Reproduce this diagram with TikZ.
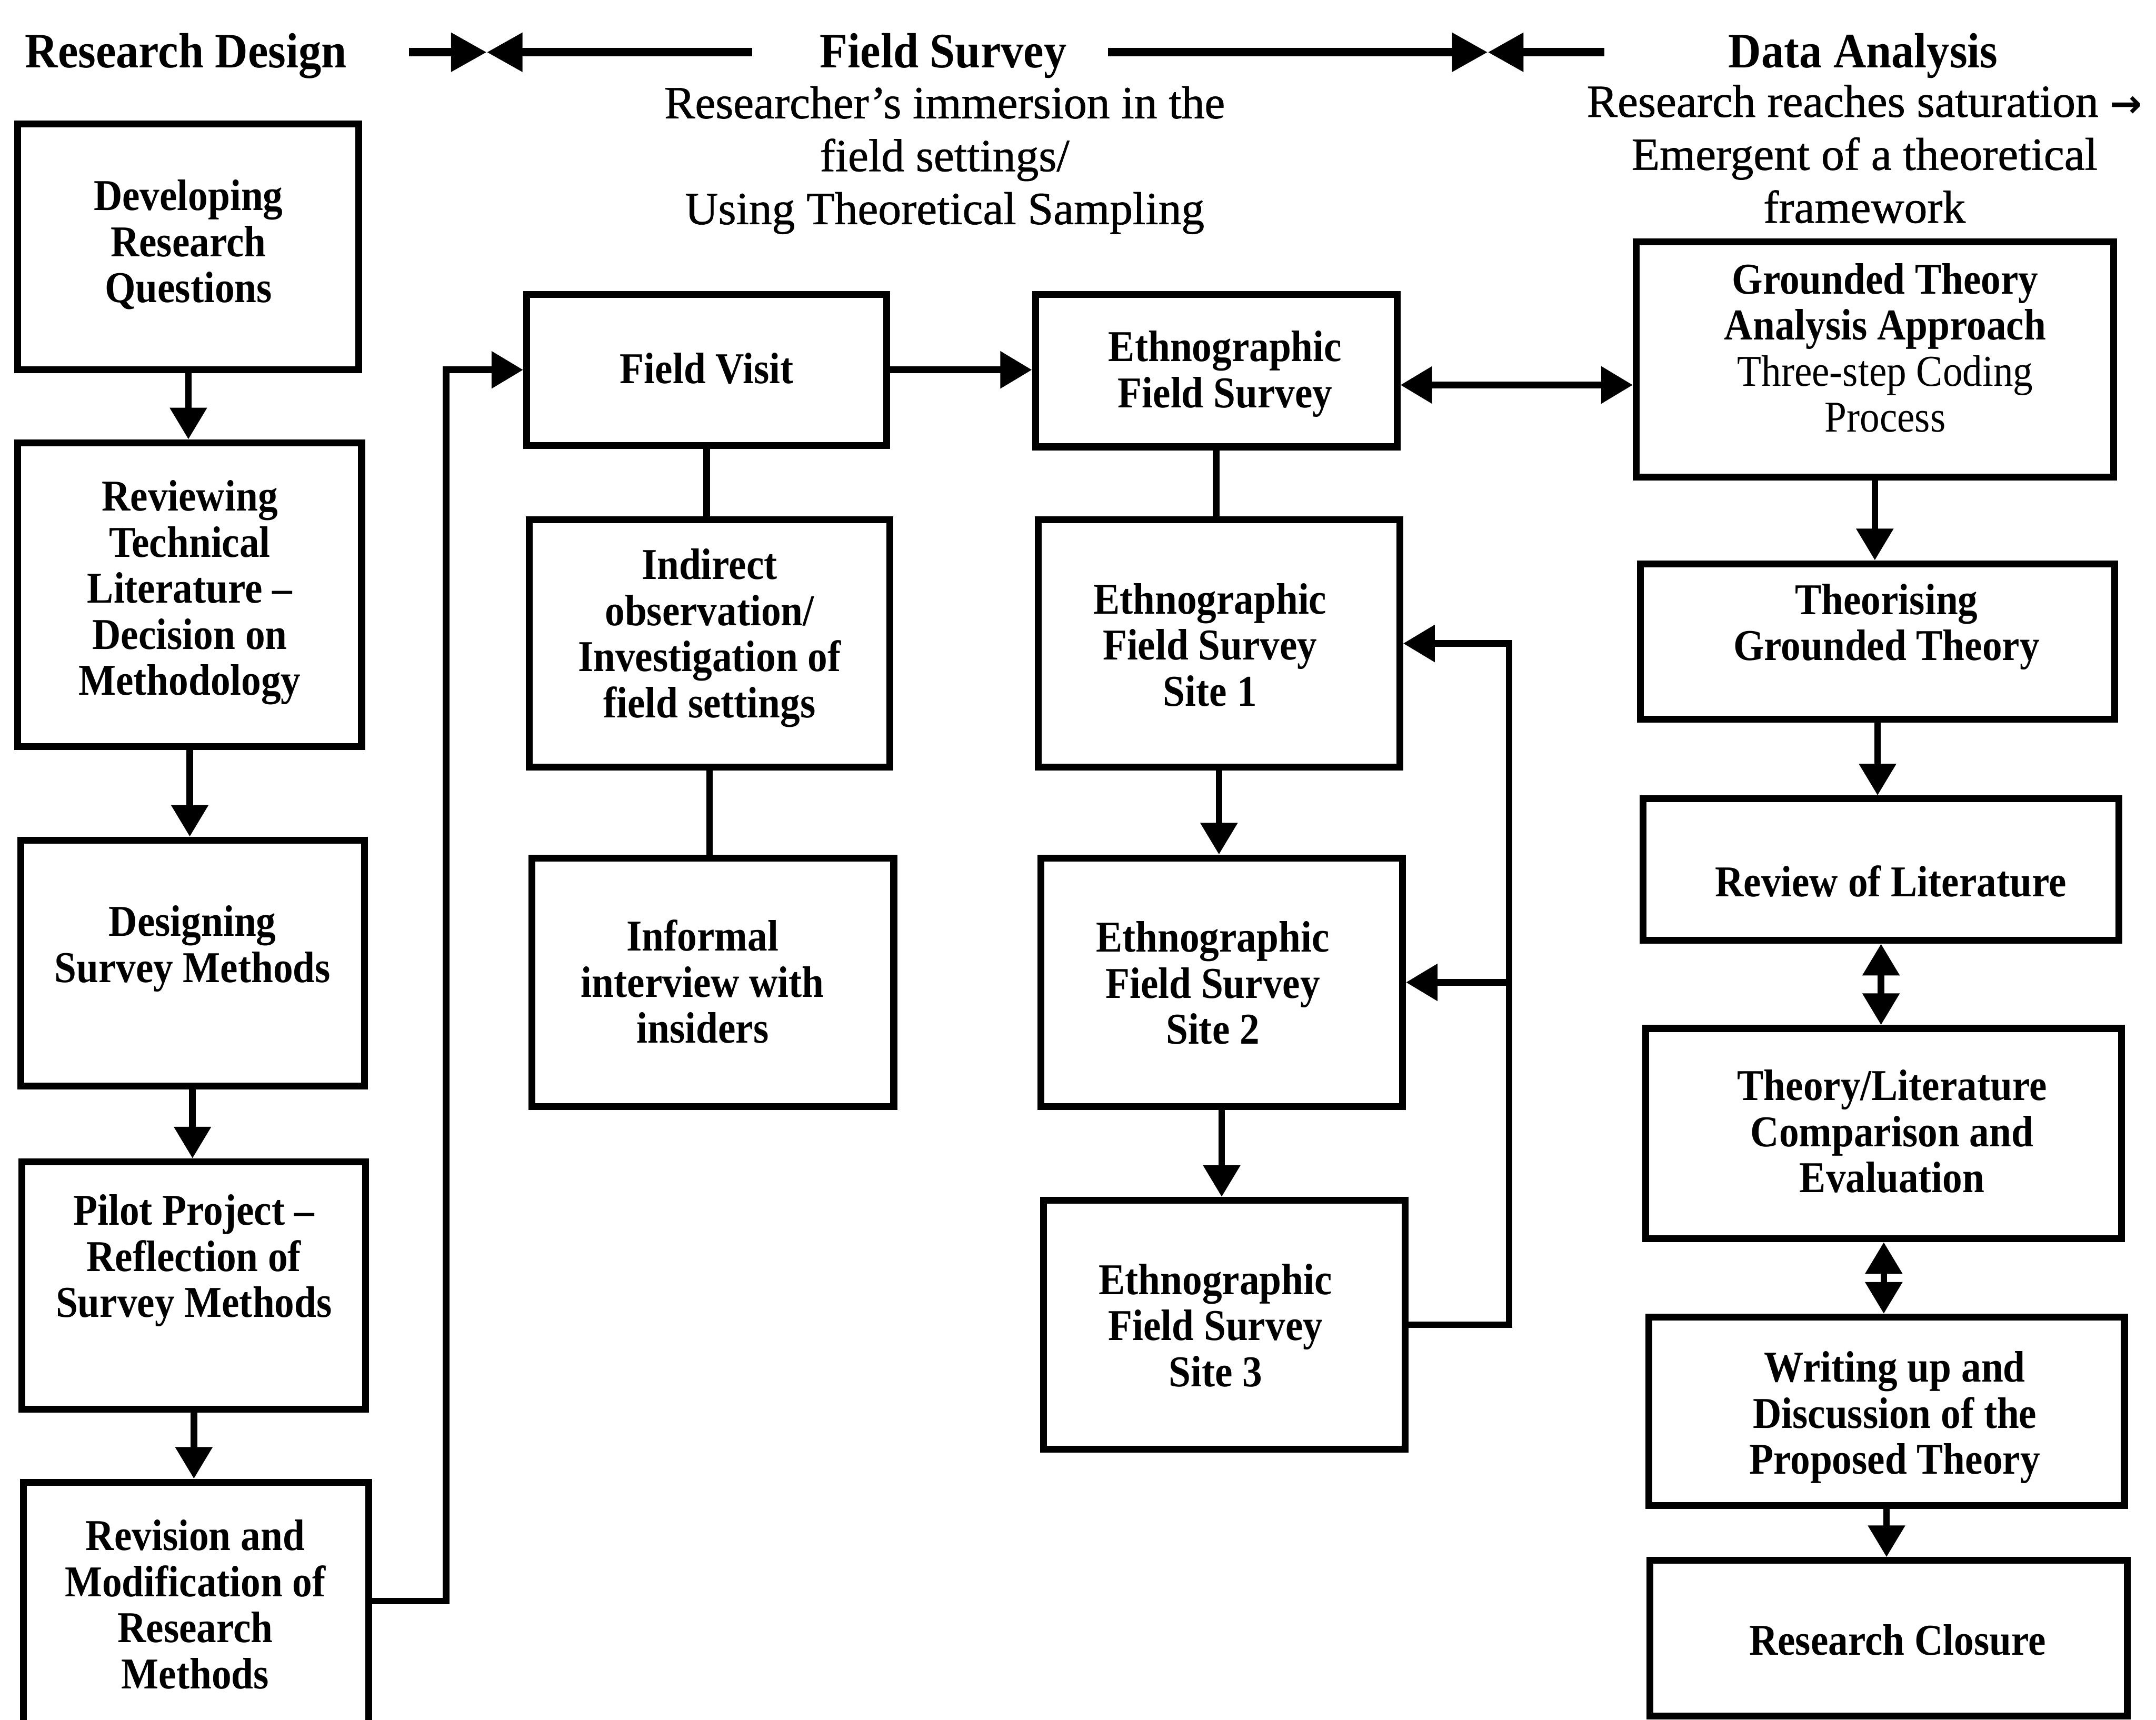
\documentclass[tikz,border=0pt]{standalone}
\usepackage{fontspec}
\setmainfont{Liberation Serif}
\newfontfamily\boxfont{Liberation Serif}[FakeStretch=0.9]
\newfontfamily\headfont{Liberation Serif}[FakeStretch=0.92]
\newfontfamily\notefont{Liberation Serif}[FakeBold=0.8]
\newfontfamily\arrowfont{DejaVu Sans}
\usetikzlibrary{arrows.meta}

\tikzset{
  frame/.style={draw, line width=5pt, inner sep=0pt},
  boxtext/.style={align=center, inner sep=0pt,
    font=\boxfont\bfseries\fontsize{32}{33.5}\selectfont},
  link/.style={line width=4.8pt},
  arr/.style={link, -{Triangle[length=23pt,width=26pt]}},
  darr/.style={link, {Triangle[length=23pt,width=26pt]}-{Triangle[length=23pt,width=26pt]}},
  heading/.style={inner sep=0pt, font=\headfont\bfseries\fontsize{36}{40}\selectfont},
  subhead/.style={align=center, inner sep=0pt, font=\notefont\fontsize{33.5}{38.5}\selectfont},
  span/.style={line width=6pt, -{Triangle[length=26pt,width=27pt]}},
}

\begin{document}
\begin{tikzpicture}[x=1pt,y=-1pt]
\fill[white] (0,0) rectangle (1568,1251);
\useasboundingbox (0,0) rectangle (1568,1251);

% ---------- phase headings ----------
\node[heading, anchor=base west] (rd) at (18,49) {Research Design};
\node[heading, anchor=base] (fs) at (686,49) {Field Survey};
\node[heading, anchor=base] (da) at (1355,49) {Data Analysis};
\coordinate (m1) at (354,38);
\coordinate (m2) at (1082,38);
\draw[span] ([xshift=45pt]rd.east |- m1) -- (m1);
\draw[span] ([xshift=-49pt]fs.west |- m1) -- (m1);
\draw[span] ([xshift=30pt]fs.east |- m2) -- (m2);
\draw[span] ([xshift=-90pt]da.west |- m2) -- (m2);

% multi-line notes: base anchor sits on the last line
\node[subhead, anchor=base] (fsnote) at (687,163)
  {Researcher’s immersion in the\\field settings/\\Using Theoretical Sampling};
\node[subhead, anchor=base] (danote) at (1356,162)
  {Research reaches saturation {\arrowfont\bfseries\fontsize{28}{30}\selectfont →}\\Emergent of a theoretical\\framework};

% ---------- research design column ----------
\node[frame, minimum width=248pt, minimum height=179pt] (b1) at (137,179.5) {};
\node[boxtext] (b1t) at (137,178) {Developing\\Research\\Questions};
\node[frame, minimum width=250pt, minimum height=221pt] (b2) at (138,432.5) {};
\node[boxtext] (b2t) at (138,431) {Reviewing\\Technical\\Literature –\\Decision on\\Methodology};
\node[frame, minimum width=250pt, minimum height=179pt] (b3) at (140,700.5) {};
\node[boxtext] (b3t) at (140,690) {Designing\\Survey Methods};
\node[frame, minimum width=250pt, minimum height=180pt] (b4) at (141,935) {};
\node[boxtext] (b4t) at (141,917) {Pilot Project –\\Reflection of\\Survey Methods};
\node[frame, minimum width=251pt, minimum height=180pt] (b5) at (142.5,1168) {};
\node[boxtext] (b5t) at (142,1167) {Revision and\\Modification of\\Research\\Methods};

\draw[arr] (b1.south) -- (b1.south |- b2.north);
\draw[arr] (b2.south) -- (b2.south |- b3.north);
\draw[arr] (b3.south) -- (b3.south |- b4.north);
\draw[arr] (b4.south) -- (b4.south |- b5.north);
\coordinate (b5out) at (268,1164.5);

% ---------- field survey columns ----------
\node[frame, minimum width=262pt, minimum height=110pt] (fv) at (514,269) {};
\node[boxtext] (fvt) at (514,268) {Field Visit};
\node[frame, minimum width=262pt, minimum height=180pt] (io) at (516,468) {};
\node[boxtext] (iot) at (516,464) {Indirect\\observation/\\Investigation of\\field settings};
\node[frame, minimum width=263pt, minimum height=181pt] (ii) at (518.5,714.5) {};
\node[boxtext] (iit) at (511,714) {Informal\\interview with\\insiders};

\node[frame, minimum width=263pt, minimum height=111pt] (efs) at (884.5,269.5) {};
\node[boxtext] (efst) at (891,272) {Ethnographic\\Field Survey};
\node[frame, minimum width=263pt, minimum height=180pt] (s1) at (886.5,468) {};
\node[boxtext] (s1t) at (880,469) {Ethnographic\\Field Survey\\Site 1};
\node[frame, minimum width=263pt, minimum height=181pt] (s2) at (888.5,714.5) {};
\node[boxtext] (s2t) at (882,715) {Ethnographic\\Field Survey\\Site 2};
\node[frame, minimum width=263pt, minimum height=181pt] (s3) at (890.5,963.5) {};
\node[boxtext] (s3t) at (884,964) {Ethnographic\\Field Survey\\Site 3};

\draw[arr] (b5.east |- b5out) -| ([xshift=-56pt]fv.west) -- (fv.west);
\draw[link] (fv.south) -- (fv.south |- io.north);
\draw[link] (io.south) -- (io.south |- ii.north);
\draw[arr] (fv.east) -- (fv.east -| efs.west);
\draw[link] (efs.south) -- (efs.south |- s1.north);
\draw[arr] (s1.south) -- (s1.south |- s2.north);
\draw[arr] (s2.south) -- (s2.south |- s3.north);
\draw[arr] (s3.east) -- ++(73,0) coordinate (fb) |- (s1.east);
\draw[arr] (fb |- s2.east) -- (s2.east);

% ---------- data analysis column ----------
\node[frame, minimum width=347pt, minimum height=171pt] (gt) at (1363.5,261.5) {};
\node[boxtext] (gtt) at (1371,253) {Grounded Theory\\Analysis Approach\\{\mdseries Three-step Coding}\\{\mdseries Process}};
\node[frame, minimum width=345pt, minimum height=113pt] (tg) at (1365.5,466.5) {};
\node[boxtext] (tgt) at (1372,456) {Theorising\\Grounded Theory};
\node[frame, minimum width=346pt, minimum height=103pt] (rl) at (1368,632.5) {};
\node[boxtext] (rlt) at (1375,641) {Review of Literature};
\node[frame, minimum width=346pt, minimum height=153pt] (tl) at (1370,824.5) {};
\node[boxtext] (tlt) at (1376,823) {Theory/Literature\\Comparison and\\Evaluation};
\node[frame, minimum width=346pt, minimum height=137pt] (wu) at (1372,1026.5) {};
\node[boxtext] (wut) at (1378,1031) {Writing up and\\Discussion of the\\Proposed Theory};
\node[frame, minimum width=347pt, minimum height=113pt] (rc) at (1373.5,1191.5) {};
\node[boxtext] (rct) at (1380,1193) {Research Closure};

\coordinate (ylink) at (0,280);
\draw[darr] (efs.east |- ylink) -- (gt.west |- ylink);
\draw[arr] (gt.south) -- (gt.south |- tg.north);
\draw[arr] (tg.south) -- (tg.south |- rl.north);
\draw[darr] (rl.south) -- (rl.south |- tl.north);
\draw[darr] (tl.south) -- (tl.south |- wu.north);
\draw[arr] (wu.south) -- (wu.south |- rc.north);
\end{tikzpicture}
\end{document}
